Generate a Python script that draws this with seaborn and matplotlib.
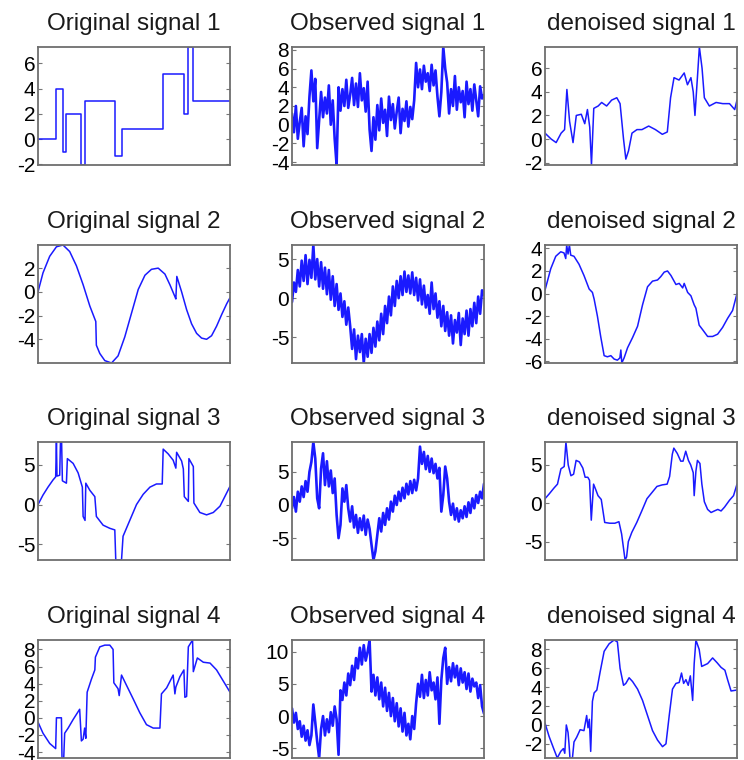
import numpy as np
import pandas as pd
import matplotlib
matplotlib.use("Agg")
import matplotlib.pyplot as plt
import seaborn as sns

# --------------------------------------------------------------
# Signal values (x is position 0..1)
# --------------------------------------------------------------
# Original signal 1 (piecewise constant, drawn as steps)
orig1_x = [0, 0.092, 0.130, 0.148, 0.226, 0.243, 0.400, 0.440, 0.649, 0.762, 0.783, 0.809, 1.0]
orig1_y = [0, 4, -1, 2, -2.05, 3, -1.3, 0.8, 5.2, 2, 7.3, 3, 3]

# Observed signal 1 (100 samples)
obs1_y = [1.2, -0.8, 2.0, -1.5, 0.3, 1.8, -2.3, 0.9, -1.0,
          3.0, 5.8, 2.5, 4.9,
          -2.5, 0.5,
          3.5, 0.8, 2.9, 1.2, 4.2, 0.0, 2.6,
          -1.5, -4.3,
          4.0, 1.5, 3.8, 2.0, 4.8, 1.8, 3.2, 5.0, 2.1, 4.4, 1.9, 5.5, 2.6, 3.9, 1.4, 4.6,
          -0.5, -2.8, 0.8, -1.6,
          2.1, -0.6, 2.8, 0.2, 1.6, -1.2, 3.0, 0.5, 2.2, -0.4, 1.4, 2.9, -0.9, 1.7, 0.4, 2.5, -0.2, 1.9, 0.6, 2.6,
          6.6, 4.0, 5.9, 3.8, 6.3, 4.6, 5.5, 3.6, 6.4, 4.2, 5.8,
          3.0, 0.9, 3.5,
          8.3, 6.0,
          4.5, 1.2, 3.8, 2.0, 5.2, 1.6, 4.0, 2.4, 3.6, 0.8, 4.6, 2.2, 3.8, 1.5, 4.3, 2.6, 0.9, 4.1, 2.8, 3.2]

# Denoised signal 1
den1_x = [0, .032, .058, .084, .102, .114, .128, .146, .163, .189, .207, .221, .233, .242, .254, .277,
          .295, .321, .347, .374, .391, .409, .421, .435, .453, .479, .505, .540, .575, .611, .637, .654,
          .672, .698, .725, .742, .760, .772, .781, .795, .804, .818, .830, .856, .891, .926, .961, .988, 1.0]
den1_y = [0.5, 0.0, -0.3, 0.5, 0.8, 4.2, 1.5, -0.3, 2.0, 2.1, 1.3, 2.5, 1.0, -2.2, 2.6, 2.8,
          3.1, 2.8, 3.3, 3.5, 3.0, 0.0, -1.7, -1.0, 0.5, 0.8, 0.8, 1.1, 0.8, 0.4, 0.6, 3.5,
          5.2, 5.0, 5.6, 4.6, 5.2, 4.0, 2.0, 5.5, 7.8, 6.0, 3.5, 2.8, 3.1, 3.0, 3.0, 2.5, 3.3]

# Original signal 2
orig2_x = [0, .026, .061, .096, .130, .165, .200, .235, .270, .301, .304, .322, .348, .383, .417, .452,
           .487, .522, .557, .591, .626, .661, .687, .713, .718, .723, .748, .774, .800, .826, .852, .878,
           .904, .930, .957, .983, 1.0]
orig2_y = [0, 1.6, 3.0, 3.8, 3.95, 3.4, 2.2, 0.6, -1.2, -2.5, -4.5, -5.2, -5.8, -6.0, -5.4, -3.8,
           -1.8, 0.2, 1.4, 1.9, 2.0, 1.5, 0.6, -0.4, -0.6, 1.3, 0.0, -1.5, -2.7, -3.5, -3.9, -4.0,
           -3.7, -2.9, -1.9, -1.0, -0.5]

# Observed signal 2 (100 samples)
obs2_y = [-0.5, 2.0, 0.8, 3.6, 1.5, 4.8, 2.2, 5.5, 1.8, 4.9,
          2.6, 6.8, 2.4, 5.0, 1.5, 4.6, 1.2, 3.9, 0.5, 3.6,
          -0.2, 2.8, -1.0, 1.8, -1.5, 0.6, -2.4, -0.4, -3.4, -1.2,
          -3.6, -6.5, -4.0, -7.8, -4.8, -6.9, -4.6, -8.3, -5.2, -7.5,
          -4.6, -7.0, -3.8, -6.2, -3.0, -5.4, -2.0, -4.6, -1.0, -3.2,
          0.2, -2.2, 1.5, -1.0, 2.2, 0.0, 2.8, 0.4, 3.4, 0.8,
          2.9, 0.6, 3.3, 0.4, 2.6, -0.3, 2.4, -0.8, 1.6, -1.2,
          0.4, -2.0, 2.0, -1.4, 0.6, -2.5, -0.4, -3.6, -1.0, -4.2,
          -1.8, -4.8, -2.2, -5.8, -2.8, -4.4, -1.9, -6.0, -2.6, -4.6,
          -1.6, -4.8, -1.4, -3.6, -0.6, -3.2, 0.2, -2.0, 1.0, 0.4]

# Denoised signal 2
den2_x = [0, .030, .056, .082, .099, .108, .113, .120, .127, .134, .151, .177, .203, .230, .247, .256,
          .273, .290, .308, .325, .343, .360, .377, .390, .395, .400, .412, .430, .456, .482, .508, .534,
          .560, .586, .603, .621, .638, .656, .682, .699, .717, .725, .743, .760, .777, .786, .803, .821,
          .847, .873, .899, .925, .951, .977, 1.0]
den2_y = [0.3, 2.2, 3.3, 3.7, 3.6, 3.1, 4.3, 3.5, 4.3, 3.4, 3.3, 2.6, 1.6, 0.4, 0.1, -0.5,
          -2.0, -3.8, -5.5, -5.6, -5.5, -5.8, -5.9, -5.7, -5.0, -6.15, -5.7, -4.8, -3.9, -2.9, -1.0, 0.6,
          1.1, 1.2, 1.5, 1.9, 2.0, 1.6, 0.8, 0.9, 0.5, 0.9, 0.1, -0.2, -1.0, -1.3, -2.8, -3.2,
          -3.8, -3.8, -3.6, -3.0, -2.2, -1.5, 0.0]

# Original signal 3
orig3_x = [0, .026, .052, .078, .092, .096, .099, .113, .117, .123, .127, .148, .153, .183, .209, .231,
           .235, .245, .249, .270, .296, .304, .339, .374, .400, .405, .435, .443, .478, .513, .548, .583,
           .617, .647, .652, .678, .704, .718, .722, .748, .757, .762, .783, .786, .809, .812, .843, .878,
           .913, .948, 1.0]
orig3_y = [0, 1.2, 2.2, 3.1, 3.5, 7.9, 3.6, 3.7, 7.9, 7.9, 3.0, 2.7, 5.8, 5.2, 4.0, 2.2,
           -1.5, -2.0, 2.7, 1.8, 1.0, -1.5, -2.6, -3.0, -3.2, -7.0, -7.0, -4.0, -2.0, 0.0, 1.3, 2.2,
           2.6, 2.6, 7.0, 6.4, 5.6, 4.6, 6.6, 5.5, 4.5, 1.0, 0.4, 5.8, 4.8, 0.2, -1.0, -1.3,
           -1.0, -0.2, 2.3]

# Observed signal 3 (100 samples)
obs3_y = [-0.5, 1.2, -1.0, 2.0, 0.5, 2.8, 1.2, 3.6, 2.0, 5.0,
          6.5, 9.5, 7.0, 1.0, -0.5, 5.5, 7.8, 3.0, 6.6, 2.8,
          5.2, 1.8, 4.0, -1.5, -5.0, -3.0, 2.5, 0.5, 3.0, -0.5,
          -2.5, -0.2, -3.4, -1.5, -4.2, -2.0, -3.8, -1.6, -4.5, -2.2,
          -3.6, -6.0, -8.3, -7.0, -4.5, -2.0, -4.0, -1.2, -3.0, -0.5,
          -2.2, 0.5, -1.0, 1.4, 0.0, 2.0, 0.6, 2.6, 1.0, 3.2,
          1.6, 3.6, 1.8, 3.8, 2.2, 4.0, 8.8, 6.2, 8.0, 5.4,
          7.4, 5.0, 7.0, 4.8, 6.2, 4.0, 5.6, -1.0, 1.5, 5.8,
          4.0, 0.5, -1.5, 0.2, -2.2, -0.5, -2.5, -0.8, -2.0, -0.2,
          -1.8, 0.4, -1.2, 1.0, -0.5, 1.5, 0.3, 2.0, 1.0, 3.2]

# Denoised signal 3
den3_x = [0, .021, .047, .065, .083, .100, .109, .121, .135, .149, .162, .179, .197, .209, .223, .232,
          .241, .253, .264, .276, .293, .311, .337, .364, .385, .399, .417, .425, .434, .452, .478, .504,
          .531, .557, .583, .610, .636, .649, .663, .671, .689, .707, .719, .733, .747, .759, .772, .777,
          .786, .794, .807, .817, .830, .847, .865, .882, .900, .917, .935, .961, .982, 1.0]
den3_y = [0.6, 1.2, 2.0, 2.5, 4.5, 4.8, 8.0, 5.0, 3.6, 3.8, 5.6, 5.4, 4.6, 3.4, 3.4, 3.0,
          -2.2, 2.5, 1.8, 1.0, 0.5, -2.5, -2.6, -2.6, -2.4, -4.0, -7.4, -7.0, -5.0, -3.8, -2.5, -1.0,
          0.6, 1.4, 2.2, 2.4, 2.5, 3.5, 6.4, 7.2, 6.5, 5.5, 5.5, 6.8, 5.6, 5.0, 4.0, 1.0,
          4.2, 5.6, 5.2, 2.5, 0.2, -0.8, -1.2, -1.0, -0.8, -1.0, -0.5, 0.4, 1.0, 2.5]

# Original signal 4
orig4_x = [0, .026, .061, .092, .096, .122, .125, .134, .139, .157, .183, .217, .226, .235, .243, .249,
           .256, .278, .296, .299, .322, .348, .374, .391, .395, .417, .423, .435, .461, .496, .530, .565,
           .600, .635, .643, .670, .704, .713, .718, .739, .760, .765, .774, .783, .805, .809, .830, .861,
           .896, .930, .965, 1.0]
orig4_y = [-0.5, -1.8, -3.0, -3.6, 0.0, 0.0, -4.7, -4.7, -1.8, -1.2, -0.2, 1.0, -2.7, -2.5, -1.2, -2.4,
           3.0, 4.5, 5.6, 7.1, 8.3, 8.5, 8.5, 8.0, 4.1, 3.4, 2.6, 5.0, 3.8, 2.2, 0.6, -0.8,
           -1.2, -1.2, 2.8, 3.5, 5.0, 2.8, 3.6, 4.8, 5.6, 2.4, 2.5, 8.3, 9.1, 5.4, 7.0, 6.5,
           6.4, 5.6, 4.3, 3.0]

# Observed signal 4 (100 samples)
obs4_y = [1.2, -1.0, 0.5, -2.0, -0.8, -3.2, -1.5, -3.8, -2.2, -4.5,
          -3.0, 1.8, -1.0, -4.0, -6.5, -2.0, 0.0, -3.0, -0.5, -2.5,
          0.6, -1.5, 1.5, -0.5, -6.0, 4.0, 2.5, 5.2, 3.2, 6.6,
          4.8, 7.8, 5.6, 9.0, 7.4, 10.6, 8.0, 11.0, 8.6, 10.0,
          11.8, 3.8, 6.4, 3.2, 6.0, 2.6, 5.2, 1.5, 4.4, 0.8,
          3.6, 0.0, 2.8, -0.8, 2.0, -1.6, 1.2, -2.4, 0.5, -3.0,
          -1.2, -3.6, 0.0, -2.0, 2.0, 5.0, 3.0, 6.4, 2.8, 5.6,
          3.2, 6.8, 4.0, 5.2, 2.6, 6.0, -1.2, 5.6, 9.0, 10.6,
          5.0, 7.6, 5.4, 8.2, 6.0, 7.8, 4.8, 7.4, 5.2, 6.8,
          4.2, 6.6, 3.8, 5.8, 4.6, 5.2, 2.8, 4.8, 1.5, 0.4]

# Denoised signal 4
den4_x = [0, .021, .047, .064, .082, .096, .103, .111, .120, .125, .130, .143, .151, .165, .183, .203,
          .217, .224, .231, .238, .247, .256, .270, .287, .308, .334, .360, .377, .391, .409, .421, .438,
          .456, .482, .508, .534, .560, .586, .612, .630, .647, .664, .682, .699, .711, .722, .734, .746,
          .757, .769, .777, .786, .803, .816, .847, .873, .896, .917, .937, .951, .969, 1.0]
den4_y = [0.2, -1.2, -2.6, -3.5, -2.8, -2.5, -3.0, 0.0, -0.8, -2.0, -3.5, -3.5, -1.8, -1.3, -0.5, -0.6,
          1.0, -0.3, 0.6, -2.8, 2.5, 3.4, 3.7, 5.6, 7.8, 8.6, 9.0, 8.8, 6.0, 4.2, 4.4, 5.0,
          4.6, 3.8, 2.6, 1.0, -0.6, -1.6, -2.3, -2.0, 1.0, 3.8, 4.4, 4.5, 5.5, 4.4, 4.8, 4.2,
          5.2, 2.6, 6.5, 9.0, 8.0, 6.2, 6.5, 7.1, 6.6, 6.1, 5.8, 4.8, 3.6, 3.7]

obs_x = [i / 99 for i in range(100)]

titles = [
    ["Original signal 1", "Observed signal 1", "denoised signal 1"],
    ["Original signal 2", "Observed signal 2", "denoised signal 2"],
    ["Original signal 3", "Observed signal 3", "denoised signal 3"],
    ["Original signal 4", "Observed signal 4", "denoised signal 4"],
]
yticks = [
    [[-2, 0, 2, 4, 6], [-4, -2, 0, 2, 4, 6, 8], [-2, 0, 2, 4, 6]],
    [[-4, -2, 0, 2], [-5, 0, 5], [-6, -4, -2, 0, 2, 4]],
    [[-5, 0, 5], [-5, 0, 5], [-5, 0, 5]],
    [[-4, -2, 0, 2, 4, 6, 8], [-5, 0, 5, 10], [-2, 0, 2, 4, 6, 8]],
]
series = [
    [(orig1_x, orig1_y), (obs_x, obs1_y), (den1_x, den1_y)],
    [(orig2_x, orig2_y), (obs_x, obs2_y), (den2_x, den2_y)],
    [(orig3_x, orig3_y), (obs_x, obs3_y), (den3_x, den3_y)],
    [(orig4_x, orig4_y), (obs_x, obs4_y), (den4_x, den4_y)],
]

# --------------------------------------------------------------
# Plot
# --------------------------------------------------------------
sns.set_style("white")
plt.rcParams["font.family"] = ["Liberation Sans", "DejaVu Sans"]
plt.rcParams["axes.unicode_minus"] = False

fig = plt.figure(figsize=(7.44, 7.60), dpi=100)
lefts = [38, 292, 545]
tops = [47, 245, 442, 640]
W, H = 192, 118

for r in range(4):
    for c in range(3):
        ax = fig.add_axes([lefts[c] / 744, (760 - tops[r] - H) / 760, W / 744, H / 760])
        xs, ys = series[r][c]
        df = pd.DataFrame({"x": xs, "y": ys})
        kw = dict(drawstyle="steps-post") if (r == 0 and c == 0) else {}
        lw = 1.9 if c == 1 else 1.1
        sns.lineplot(data=df, x="x", y="y", ax=ax, estimator=None, sort=False,
                     color="#1a1aff", linewidth=lw, **kw)
        ax.set_xlim(0, 1)
        ax.set_ylim(min(ys), max(ys))
        ax.set_xticks([])
        ax.set_yticks(yticks[r][c])
        ax.set_xlabel("")
        ax.set_ylabel("")
        ax.tick_params(axis="y", direction="in", length=3, width=0.8, color="#777777",
                       labelsize=15, pad=2, right=True, left=True, labelcolor="black")
        for s in ax.spines.values():
            s.set_color("#6e6e6e")
            s.set_linewidth(1.3)
        ax.set_title(titles[r][c], fontsize=17.5, pad=12, color="#1a1a1a")

plt.savefig("out.png", dpi=100)
